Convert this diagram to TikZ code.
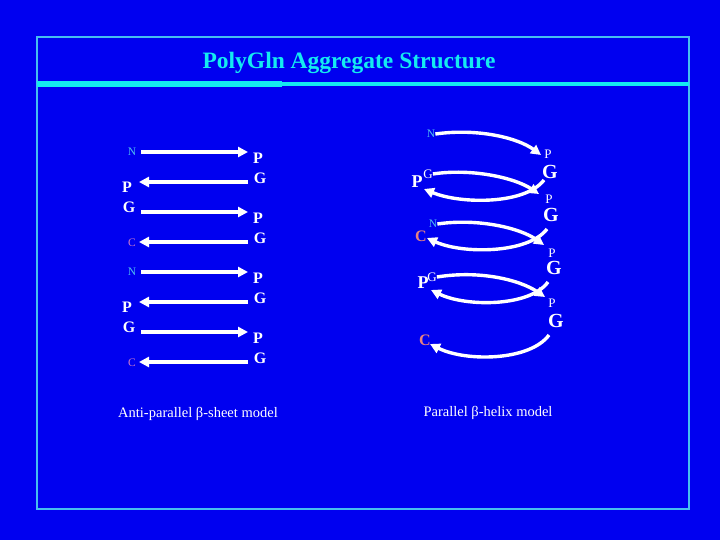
\documentclass[tikz,border=0pt]{standalone}
\usepackage{fontspec}
\setmainfont{Liberation Serif}
\usetikzlibrary{arrows.meta}
\definecolor{bg}{RGB}{0,0,240}
\definecolor{frame}{RGB}{70,190,240}
\definecolor{titlec}{RGB}{20,235,240}
\definecolor{nc}{RGB}{80,190,240}
\definecolor{cc}{RGB}{200,120,200}
\definecolor{cr}{RGB}{230,130,130}
\tikzset{
  arr/.style={draw=white, line width=3.4pt, -{Triangle[length=10pt,width=10pt]}},
  big/.style={text=white, font=\bfseries\fontsize{16}{16}\selectfont, inner sep=0pt},
  bigp/.style={text=white, font=\bfseries\fontsize{18}{18}\selectfont, inner sep=0pt},
  bigg/.style={text=white, font=\bfseries\fontsize{20}{20}\selectfont, inner sep=0pt},
  smallw/.style={text=white, font=\fontsize{13}{13}\selectfont, inner sep=0pt},
  nlab/.style={text=nc, font=\fontsize{11.5}{11.5}\selectfont, inner sep=0pt},
  clab/.style={text=cc, font=\fontsize{11.5}{11.5}\selectfont, inner sep=0pt},
  crlab/.style={text=cr, font=\bfseries\fontsize{16}{16}\selectfont, inner sep=0pt},
  captxt/.style={text=white, font=\fontsize{14.5}{14.5}\selectfont, inner sep=0pt},
}
\begin{document}
\begin{tikzpicture}[x=1pt,y=-1pt]
\fill[bg] (0,0) rectangle (720,540);
\useasboundingbox (0,0) rectangle (720,540);
\draw[frame, line width=2.2pt] (37,37) rectangle (689,509);
\draw[titlec, line width=4.5pt] (37,84) -- (689,84);
\draw[titlec, line width=6pt] (37,84) -- (282,84);
\node[text=titlec, font=\bfseries\fontsize{23.5}{23.5}\selectfont, inner sep=0pt] (title) at (349,62.5) {PolyGln Aggregate Structure};

% left model
\foreach \k/\dy in {a/0,b/120}{
  \begin{scope}[yshift=-\dy pt]
  \node[nlab] (N\k) at (132,152) {N};
  \coordinate (a1s\k) at (141,152); \coordinate (a1e\k) at (248,152);
  \node[big] (P1\k) at (258,158) {P};
  \node[big] (G1\k) at (260,178) {G};
  \coordinate (a2s\k) at (248,182); \coordinate (a2e\k) at (139,182);
  \node[big] (P2\k) at (127,187) {P};
  \node[big] (G2\k) at (129,207) {G};
  \coordinate (a3s\k) at (141,212); \coordinate (a3e\k) at (248,212);
  \node[big] (P3\k) at (258,218) {P};
  \node[big] (G3\k) at (260,238) {G};
  \coordinate (a4s\k) at (248,242); \coordinate (a4e\k) at (139,242);
  \node[clab] (C\k) at (132,243) {C};
  \draw[arr] (a1s\k) -- (a1e\k);
  \draw[arr] (a2s\k) -- (a2e\k);
  \draw[arr] (a3s\k) -- (a3e\k);
  \draw[arr] (a4s\k) -- (a4e\k);
  \end{scope}
}
\node[captxt] (capL) at (198,414) {Anti-parallel β-sheet model};

% right model
\node[nlab] (RN1) at (431,134) {N};
\node[smallw] (RP1) at (548,154) {P};
\node[bigg] (RG1) at (550,172) {G};
\node[bigp] (RP2) at (417,182) {P};
\node[smallw] (RG2) at (428,174) {G};
\node[smallw] (RP3) at (549,199) {P};
\node[bigg] (RG3) at (551,215) {G};
\node[crlab] (RC1) at (421,236) {C};
\node[nlab] (RN2) at (433,224) {N};
\node[smallw] (RP4) at (552,253) {P};
\node[bigg] (RG4) at (554,268) {G};
\node[bigp] (RP5) at (423,283) {P};
\node[smallw] (RG5) at (432,277) {G};
\node[smallw] (RP6) at (552,303) {P};
\node[bigg] (RG6) at (556,321) {G};
\node[crlab] (RC2) at (425,340) {C};

\coordinate (c1e) at (541,155);
\coordinate (c2s) at (544,180); \coordinate (c2e) at (424,189);
\coordinate (c3e) at (539,194);
\coordinate (c4e) at (544,245);
\coordinate (c5s) at (547,229); \coordinate (c5e) at (427,238);
\coordinate (c6e) at (545,297);
\coordinate (c7s) at (548,282); \coordinate (c7e) at (431,290);
\coordinate (c8s) at (549,335); \coordinate (c8e) at (430,344);

\draw[arr] (RN1.east) .. controls (478,128) and (518,138) .. (c1e);
\draw[arr] (c2s) .. controls (525,205) and (460,204) .. (c2e);
\draw[arr] (RG2.east) .. controls (472,168) and (515,178) .. (c3e);
\draw[arr] (RN2.east) .. controls (478,218) and (520,228) .. (c4e);
\draw[arr] (c5s) .. controls (528,254) and (462,254) .. (c5e);
\draw[arr] (RG5.east) .. controls (480,270) and (520,280) .. (c6e);
\draw[arr] (c7s) .. controls (530,307) and (466,307) .. (c7e);
\draw[arr] (c8s) .. controls (530,361) and (466,362) .. (c8e);
\node[captxt] (capR) at (488,413) {Parallel β-helix model};
\end{tikzpicture}
\end{document}
